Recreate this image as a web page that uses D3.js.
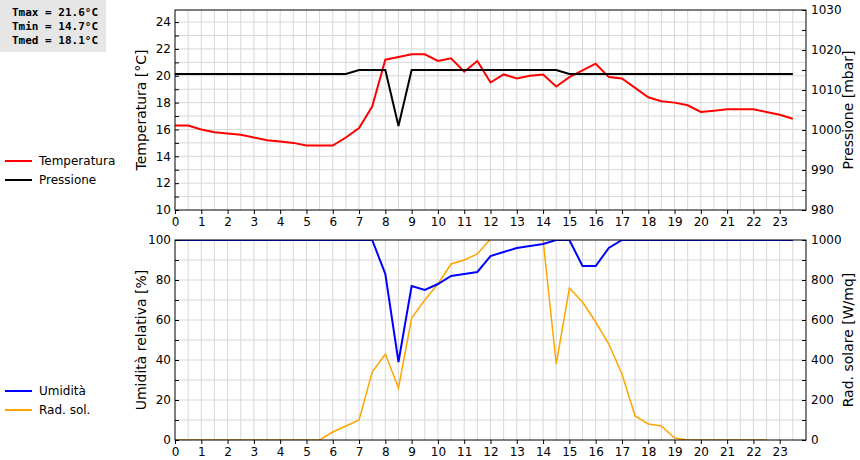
<!DOCTYPE html><html><head><meta charset="utf-8"><script src="https://d3js.org/d3.v7.min.js"></script>
<style>body{margin:0;background:#fff}text{font-family:"DejaVu Sans",sans-serif}</style></head><body>
<svg id="c" width="860" height="460"></svg>
<script>
const hours = d3.range(0, 24, 0.5);
const temperatura = [16.3,16.3,16.0,15.8,15.7,15.6,15.4,15.2,15.1,15.0,14.8,14.8,14.8,15.4,16.1,17.7,21.2,21.4,21.6,21.6,21.1,21.3,20.3,21.1,19.5,20.1,19.8,20.0,20.1,19.2,19.9,20.4,20.9,19.9,19.8,19.1,18.4,18.1,18.0,17.8,17.3,17.4,17.5,17.5,17.5,17.3,17.1,16.8];
const pressione = [1014,1014,1014,1014,1014,1014,1014,1014,1014,1014,1014,1014,1014,1014,1015,1015,1015,1001,1015,1015,1015,1015,1015,1015,1015,1015,1015,1015,1015,1015,1014,1014,1014,1014,1014,1014,1014,1014,1014,1014,1014,1014,1014,1014,1014,1014,1014,1014];
const umidita = [100,100,100,100,100,100,100,100,100,100,100,100,100,100,100,100,83,39,77,75,78,82,83,84,92,94,96,97,98,100,100,87,87,96,100,100,100,100,100,100,100,100,100,100,100,100,100,100];
const radsol = [0,0,0,0,0,0,0,0,0,0,0,0,40,70,100,340,430,260,610,700,780,880,900,930,1005,1060,1090,1060,1000,380,760,690,590,480,330,120,80,70,10,0,0,0,0,0,0,0];
const xTicks = d3.range(0, 24);
const stats = ["Tmax = 21.6°C","Tmin = 14.7°C","Tmed = 18.1°C"];

const svg = d3.select("#c");
const x = d3.scaleLinear().domain([0,24]).range([175,806]);
function panel(y0,y1,lDom,lMax,rDom,lStep,rStep,lMinor,rMinor,lLab,rLab,series,id){
  const yl = d3.scaleLinear().domain(lDom).range([y1,y0]);
  const yr = d3.scaleLinear().domain(rDom).range([y1,y0]);
  const g = svg.append("g");
  g.selectAll(".vg").data(d3.range(0.5,24,0.5)).join("line").attr("x1",d=>x(d)).attr("x2",d=>x(d)).attr("y1",y0).attr("y2",y1).attr("stroke","#d8d8d8");
  g.selectAll(".hg").data(d3.range(lDom[0]+lMinor,lMax+0.01,lMinor).filter(v=>yl(v)>y0+1)).join("line").attr("x1",x(0)).attr("x2",x(24)).attr("y1",d=>yl(d)).attr("y2",d=>yl(d)).attr("stroke","#d8d8d8");
  svg.append("clipPath").attr("id",id).append("rect").attr("x",x(0)).attr("y",y0).attr("width",x(24)-x(0)).attr("height",y1-y0);
  series.forEach(s=>{
    const sc = s.right?yr:yl;
    g.append("path").attr("clip-path",`url(#${id})`).attr("fill","none").attr("stroke",s.color).attr("stroke-width",s.w)
      .attr("d",d3.line().x((d,i)=>x(hours[i])).y(d=>sc(d))(s.data));
  });
  g.append("rect").attr("x",x(0)).attr("y",y0).attr("width",x(24)-x(0)).attr("height",y1-y0).attr("fill","none").attr("stroke","#000");
  const ax = g.append("g").attr("transform",`translate(0,${y1})`).call(d3.axisBottom(x).tickValues(xTicks).tickFormat(d3.format("d")).tickSize(4).tickSizeOuter(0));
  ax.select(".domain").remove();
  g.append("g").attr("transform",`translate(${x(0)},0)`).call(d3.axisLeft(yl).tickValues(d3.range(lDom[0],lMax+0.01,lStep)).tickFormat(d3.format("d")).tickSize(0).tickPadding(4)).select(".domain").remove();
  g.append("g").attr("transform",`translate(${x(0)},0)`).call(d3.axisRight(yl).tickValues(d3.range(lDom[0],lMax+0.01,lMinor)).tickFormat("").tickSize(4).tickSizeOuter(0)).select(".domain").remove();
  g.append("g").attr("transform",`translate(${x(24)},0)`).call(d3.axisRight(yr).tickValues(d3.range(rDom[0],rDom[1]+0.01,rStep)).tickFormat(d3.format("d")).tickSize(0).tickPadding(5)).select(".domain").remove();
  g.append("g").attr("transform",`translate(${x(24)},0)`).call(d3.axisLeft(yr).tickValues(d3.range(rDom[0],rDom[1]+0.01,rMinor)).tickFormat("").tickSize(4).tickSizeOuter(0)).select(".domain").remove();
  g.selectAll(".tick text").attr("font-size",12).attr("fill","#000").style("font-family","'DejaVu Sans',sans-serif");
  const ym=(y0+y1)/2;
  g.append("text").attr("transform",`translate(146,${ym}) rotate(-90)`).attr("text-anchor","middle").attr("font-size",14).text(lLab);
  g.append("text").attr("transform",`translate(853,${ym}) rotate(-90)`).attr("text-anchor","middle").attr("font-size",14).text(rLab);
}
panel(10,210,[10,24.9],24,[980,1030],2,10,1,5,"Temperatura [°C]","Pressione [mbar]",
 [{data:temperatura,color:"#f00",w:2},{data:pressione,color:"#000",w:2,right:true}],"c1");
panel(240,440,[0,100],100,[0,1000],20,200,10,100,"Umidità relativa [%]","Rad. solare [W/mq]",
 [{data:radsol,color:"#ffa500",w:1.5,right:true},{data:umidita,color:"#00f",w:2}],"c2");
[["Temperatura","#f00",161],["Pressione","#000",180],["Umidità","#00f",391],["Rad. sol.","#ffa500",410]].forEach(([t,c,y])=>{
  svg.append("line").attr("x1",5).attr("x2",32).attr("y1",y).attr("y2",y).attr("stroke",c).attr("stroke-width",2);
  svg.append("text").attr("x",39).attr("y",y+4).attr("font-size",12).text(t);
});
svg.append("rect").attr("x",0).attr("y",0).attr("width",106).attr("height",52).attr("fill","#e6e6e6");
svg.selectAll(".st").data(stats).join("text").attr("x",12).attr("y",(d,i)=>16+i*14).attr("font-size",11).attr("font-weight","bold").style("font-family","'DejaVu Sans Mono',monospace").text(d=>d);
</script></body></html>
